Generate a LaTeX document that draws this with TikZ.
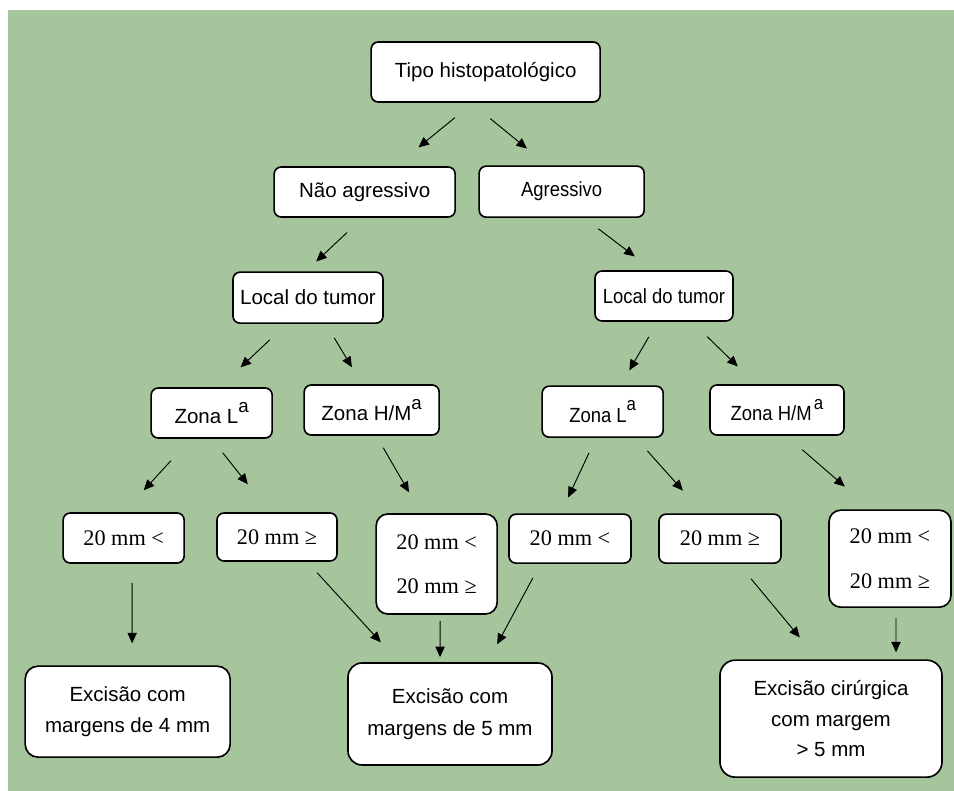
\documentclass[tikz,border=0pt]{standalone}
\usepackage{fontspec}
\setmainfont{Liberation Sans}
\newfontfamily\serifrm{Liberation Serif}
\newfontfamily\narrowsf[FakeStretch=0.9]{Liberation Sans}
\usetikzlibrary{arrows.meta}
\definecolor{fundo}{RGB}{166,197,156}
\newcommand{\supa}{\raisebox{10pt}{\fontsize{16}{16}\selectfont a}}
\begin{document}
\begin{tikzpicture}[
    caixa/.style={draw=black, line width=1.4pt, fill=white, rounded corners=6pt, inner sep=2pt, align=center, font=\fontsize{17.5}{21}\selectfont},
    caixamm/.style={caixa, font=\serifrm\fontsize{19}{38}\selectfont},
    seta/.style={-{Triangle[length=9pt,width=8pt]}, line width=0.8pt}]
    \useasboundingbox[fill=white] (0,0) rectangle (28.62cm,-23.73cm);
    \fill[fundo] (0.24cm,-0.30cm) rectangle (28.8cm,-23.9cm);
    % first levels
    \node[caixa, minimum width=6.87cm, minimum height=1.80cm] (tipo) at (14.57cm,-2.16cm) {Tipo histopatológico};
    \node[caixa, minimum width=5.43cm, minimum height=1.50cm] (nao) at (10.94cm,-5.76cm) {Não agressivo};
    \node[caixa, minimum width=4.95cm, minimum height=1.53cm, font=\narrowsf\fontsize{17.5}{21}\selectfont] (agr) at (16.85cm,-5.75cm) {Agressivo};
    \node[caixa, minimum width=4.50cm, minimum height=1.53cm] (localA) at (9.24cm,-8.93cm) {Local do tumor};
    \node[caixa, minimum width=4.14cm, minimum height=1.50cm, font=\narrowsf\fontsize{17.5}{21}\selectfont] (localB) at (19.92cm,-8.88cm) {Local do tumor};
    % zones
    \node[caixa, minimum width=3.63cm, minimum height=1.50cm] (zonaLA) at (6.35cm,-12.39cm) {Zona L\supa};
    \node[caixa, minimum width=4.05cm, minimum height=1.50cm] (zonaHA) at (11.15cm,-12.30cm) {Zona H/M\supa};
    \node[caixa, minimum width=3.63cm, minimum height=1.53cm, font=\narrowsf\fontsize{17.5}{21}\selectfont] (zonaLB) at (18.08cm,-12.35cm) {Zona L\supa};
    \node[caixa, minimum width=4.02cm, minimum height=1.50cm, font=\narrowsf\fontsize{17.5}{21}\selectfont] (zonaHB) at (23.31cm,-12.30cm) {Zona H/M\hspace{2pt}\supa};
    % sizes
    \node[caixamm, minimum width=3.63cm, minimum height=1.50cm] (mmA) at (3.71cm,-16.14cm) {20 mm <};
    \node[caixamm, minimum width=3.60cm, minimum height=1.44cm] (mmB) at (8.31cm,-16.11cm) {20 mm ≥};
    \node[caixamm, minimum width=3.63cm, minimum height=3.00cm, rounded corners=10pt] (mmC) at (13.10cm,-16.92cm) {20 mm <\\20 mm ≥};
    \node[caixamm, minimum width=3.66cm, minimum height=1.47cm] (mmD) at (17.10cm,-16.16cm) {20 mm <};
    \node[caixamm, minimum width=3.66cm, minimum height=1.47cm] (mmE) at (21.60cm,-16.16cm) {20 mm ≥};
    \node[caixamm, minimum width=3.66cm, minimum height=2.91cm, rounded corners=10pt] (mmF) at (26.70cm,-16.76cm) {20 mm <\\20 mm ≥};
    % excisions
    \node[caixa, minimum width=6.15cm, minimum height=2.73cm, rounded corners=11pt, font=\fontsize{17.5}{27}\selectfont] (excA) at (3.83cm,-21.35cm) {Excisão com\\margens de 4 mm};
    \node[caixa, minimum width=6.12cm, minimum height=3.06cm, rounded corners=12pt, font=\fontsize{17.5}{27}\selectfont] (excB) at (13.50cm,-21.42cm) {Excisão com\\margens de 5 mm};
    \node[caixa, minimum width=6.66cm, minimum height=3.51cm, rounded corners=13pt, font=\fontsize{17.5}{26}\selectfont] (excC) at (24.93cm,-21.56cm) {Excisão cirúrgica\\com margem\\> 5 mm};
    % arrows
    \draw[seta, shorten <=20pt, shorten >=25.3pt] ([xshift=-10.8pt]tipo.south) -- ([xshift=26.3pt]nao.north);
    \draw[seta, shorten <=21.3pt, shorten >=22.6pt] ([xshift=-12.5pt]tipo.south) -- ([xshift=-12.1pt]agr.north);
    \draw[seta, shorten <=18.4pt, shorten >=12.3pt] ([xshift=-1.7pt]nao.south) -- ([xshift=-2pt]localA.north);
    \draw[seta, shorten <=15.2pt, shorten >=19.4pt] ([xshift=19.2pt]agr.south) -- ([xshift=-9.5pt]localB.north);
    \draw[seta, shorten <=19.6pt, shorten >=24.6pt] ([xshift=-18.3pt]localA.south) -- ([xshift=6.7pt]zonaLA.north);
    \draw[seta, shorten <=13.8pt, shorten >=16.8pt] ([xshift=15.3pt]localA.south) -- ([xshift=-8.2pt]zonaHA.north);
    \draw[seta, shorten <=14.8pt, shorten >=14.8pt] ([xshift=-5.5pt]localB.south) -- ([xshift=15.3pt]zonaLB.north);
    \draw[seta, shorten <=18.1pt, shorten >=21.7pt] ([xshift=23.9pt]localB.south) -- ([xshift=-17.9pt]zonaHB.north);
    \draw[seta, shorten <=25.3pt, shorten >=25.3pt] ([xshift=-17.6pt]zonaLA.south) -- (mmA.north);
    \draw[seta, shorten <=15.2pt, shorten >=30.4pt] (zonaLA.south) -- ([xshift=-6pt]mmB.north);
    \draw[seta, shorten <=11.8pt, shorten >=20.6pt] ([xshift=4pt]zonaHA.south) -- ([xshift=-13.3pt]mmC.north);
    \draw[seta, shorten <=14.1pt, shorten >=15pt] ([xshift=-5.7pt]zonaLB.south) -- ([xshift=-7.9pt]mmD.north);
    \draw[seta, shorten <=14.8pt, shorten >=26.1pt] ([xshift=28.3pt]zonaLB.south) -- ([xshift=-14.3pt]mmE.north);
    \draw[seta, shorten <=18pt, shorten >=29.6pt] ([xshift=7.9pt]zonaHB.south) -- ([xshift=-16.2pt]mmF.north);
    \draw[seta, shorten <=16.2pt, shorten >=18.8pt] ([xshift=7.3pt]mmA.south) -- ([xshift=3.8pt]excA.north);
    \draw[seta, shorten <=12.6pt, shorten >=23pt] ([xshift=25.7pt]mmB.south) -- ([xshift=-43.5pt]excB.north);
    \draw[seta, shorten <=5.1pt, shorten >=4.3pt] ([xshift=3pt]mmC.south) -- ([xshift=-8.5pt]excB.north);
    \draw[seta, shorten <=13.5pt, shorten >=17.4pt] ([xshift=-25.3pt]mmD.south) -- ([xshift=32pt]excB.north);
    \draw[seta, shorten <=16.5pt, shorten >=24.3pt] ([xshift=16pt]mmE.south) -- ([xshift=-11.1pt]excC.north);
    \draw[seta, shorten <=8.5pt, shorten >=6pt] ([xshift=5.1pt]mmF.south) -- ([xshift=55.5pt]excC.north);
\end{tikzpicture}
\end{document}
